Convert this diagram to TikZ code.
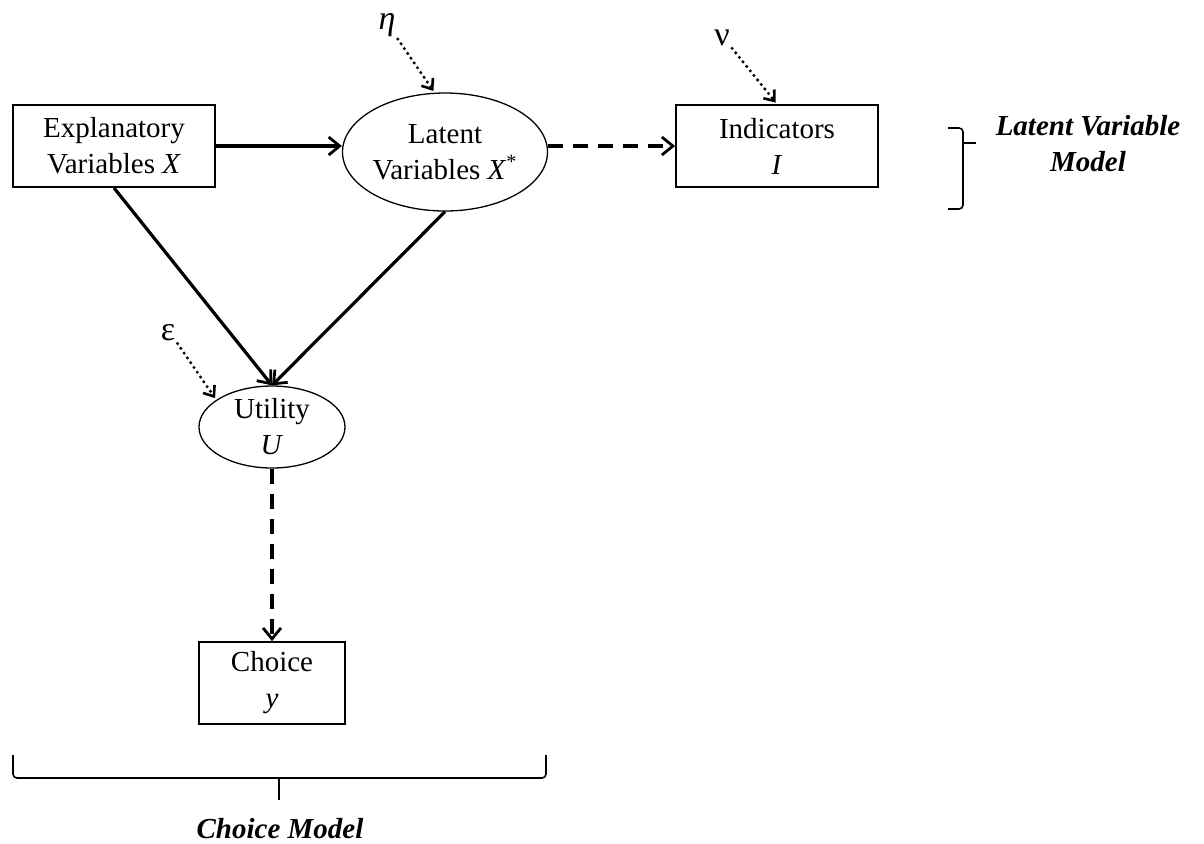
\documentclass[tikz,border=0pt]{standalone}
\usepackage{fontspec}
\setmainfont{Liberation Serif}
\usetikzlibrary{arrows.meta,shapes.geometric}
\begin{document}
\begin{tikzpicture}[x=0.5pt,y=-0.5pt,
  font=\fontsize{14.5pt}{18pt}\selectfont,
  box/.style={draw, line width=0.9pt, minimum width=101pt, minimum height=41pt, inner sep=0pt, align=center},
  oval/.style={draw, ellipse, line width=0.65pt, inner sep=0pt, align=center},
  bigtip/.style={-{Straight Barb[length=5.5pt,width=9pt,line width=1.4pt]}},
  smalltip/.style={-{Straight Barb[length=4.5pt,width=7pt,line width=1.3pt]}},
  solidarr/.style={bigtip, line width=1.6pt},
  dasharr/.style={bigtip, line width=1.6pt, dash pattern=on 7.5pt off 5pt},
  dotarr/.style={smalltip, line width=1.7pt, line cap=round, dash pattern=on 0pt off 2.9pt, shorten >=1pt},
  greek/.style={inner sep=1pt, font=\fontsize{17pt}{20pt}\selectfont},
  bracepath/.style={line width=0.8pt, rounded corners=2pt},
  modellabel/.style={font=\fontsize{14.5pt}{18pt}\selectfont\bfseries\itshape, align=center}
]
\useasboundingbox (0,0) rectangle (1204,843);

% structural part
\node[box] (expl) at (114,146) {Explanatory\\Variables \textit{X}};
\node[oval, minimum width=100pt, minimum height=59pt] (lat) at (445,152)
  {Latent\\Variables \textit{X}\textsuperscript{*}};
\node[box] (ind) at (777,146) {Indicators\\\textit{I}};
\node[oval, minimum width=73pt, minimum height=41pt] (util) at (272,427) {Utility\\\textit{U}};
\node[box, minimum width=73pt] (choice) at (272,683) {Choice\\\textit{y}};

% disturbance terms
\node[greek] (eta) at (387,25) {\textit{η}};
\node[greek] (nu) at (722,38) {ν};
\node[greek] (eps) at (168,333) {ε};

% connectors
\draw[solidarr] (expl.east) -- (expl.east -| lat.west);
\draw[dasharr] (lat.east |- ind.west) -- (ind.west);
\draw[solidarr] (expl.south) -- (util.north);
\draw[solidarr] (lat.south) -- (util.north);
\draw[dasharr] (util.south) -- (choice.north);
\draw[dotarr] (eta.south east) -- (lat.100);
\draw[dotarr] (nu.south east) -- (ind.north);
\draw[dotarr] (eps.south east) -- (util.154);

% braces
\draw[bracepath] (948,128) -- (963,128) -- (963,209) -- (948,209);
\draw[line width=0.8pt] (963,143) -- (976,143);
\node[modellabel] (lvm) at (1088,144) {Latent Variable\\Model};

\draw[bracepath] (13,755) -- (13,778) -- (546,778) -- (546,755);
\draw[line width=0.8pt] (279,778) -- (279,800);
\node[modellabel, anchor=base] (cm) at (280,838) {Choice Model};
\end{tikzpicture}
\end{document}
